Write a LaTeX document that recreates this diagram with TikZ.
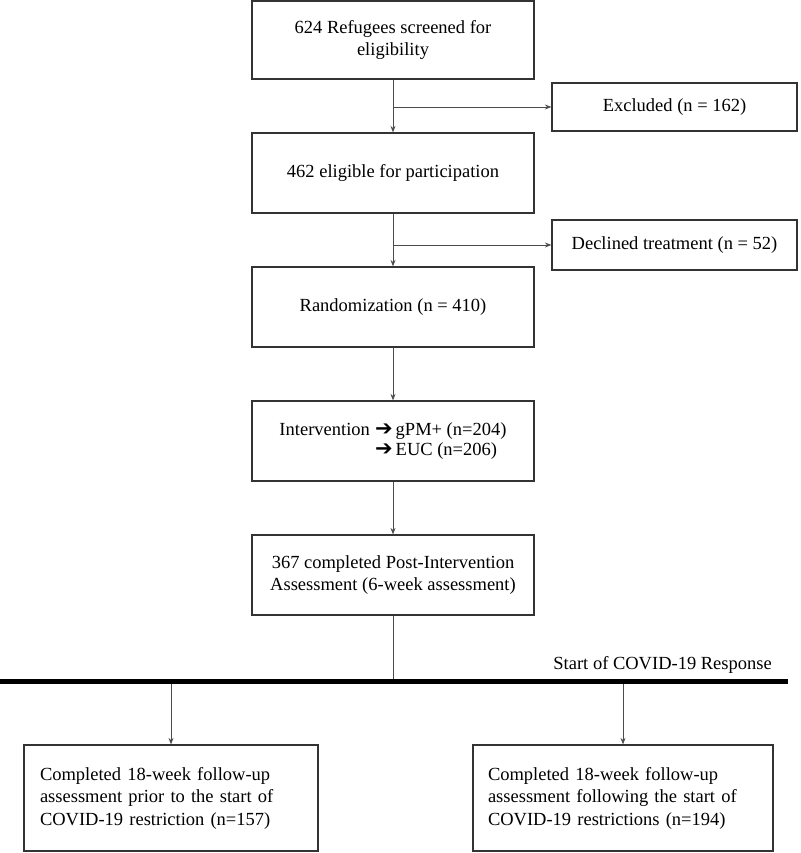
\documentclass[tikz,border=0pt]{standalone}
\usepackage{fontspec}
\setmainfont{Liberation Serif}
\newfontfamily\symfont{DejaVu Sans}
\usetikzlibrary{arrows.meta,calc}
\begin{document}
\begin{tikzpicture}[x=1pt,y=-1pt,
  box/.style={draw=black!80,line width=1.2pt,rectangle,inner sep=0pt,align=center,
    font=\fontsize{18.5}{22.5}\selectfont},
  conn/.style={draw=black!70,line width=0.9pt},
  arr/.style={conn,-{Stealth[length=6.5pt,width=5pt]}}]
\useasboundingbox (0,0) rectangle (800,853);
\node[box,minimum width=282,minimum height=78] (b1) at (393,40) {624 Refugees screened for\\eligibility};
\node[box,minimum width=282,minimum height=80] (b2) at (393,173) {462 eligible for participation};
\node[box,minimum width=245,minimum height=48] (excl) at (674.5,107) {Excluded (n = 162)};
\node[box,minimum width=245,minimum height=50] (decl) at (674.5,245) {Declined treatment (n = 52)};
\node[box,minimum width=282,minimum height=80] (b3) at (393,307) {Randomization (n = 410)};
\node[box,minimum width=282,minimum height=80,font=\fontsize{18.5}{20}\selectfont] (b4) at (393,441)
  {\begin{tabular}{@{}r@{\;}l@{}}Intervention & {\symfont\fontsize{21}{20}\selectfont ➔}\,gPM+ (n=204)\\
   & {\symfont\fontsize{21}{20}\selectfont ➔}\,EUC (n=206)\end{tabular}};
\node[box,minimum width=282,minimum height=80] (b5) at (393,575) {367 completed Post-Intervention\\Assessment (6-week assessment)};
\node[fill=black,minimum width=788,minimum height=5.5,inner sep=0pt] (bar) at (394,681.5) {};
\node[anchor=base east,inner sep=0pt,font=\fontsize{18.5}{22.5}\selectfont] (covid) at (772,669) {Start of COVID-19 Response};
\node[box,minimum width=294,minimum height=106,text width=262,inner xsep=16pt,align=left] (left) at (171,798)
  {Completed 18-week follow-up\\assessment prior to the start of\\COVID-19 restriction (n=157)};
\node[box,minimum width=300,minimum height=106,text width=270,inner xsep=15pt,align=left] (right) at (623,798)
  {Completed 18-week follow-up\\assessment following the start of\\COVID-19 restrictions (n=194)};
\draw[arr] (b1) -- (b2);
\draw[arr] (b1.south |- excl.west) -- (excl.west);
\draw[arr] (b2) -- (b3);
\draw[arr] (b2.south |- decl.west) -- (decl.west);
\draw[arr] (b3) -- (b4);
\draw[arr] (b4) -- (b5);
\draw[conn] (b5) -- (b5.south |- bar.north);
\draw[arr] (bar.south -| left.north) -- (left.north);
\draw[arr] (bar.south -| right.north) -- (right.north);
\end{tikzpicture}
\end{document}
